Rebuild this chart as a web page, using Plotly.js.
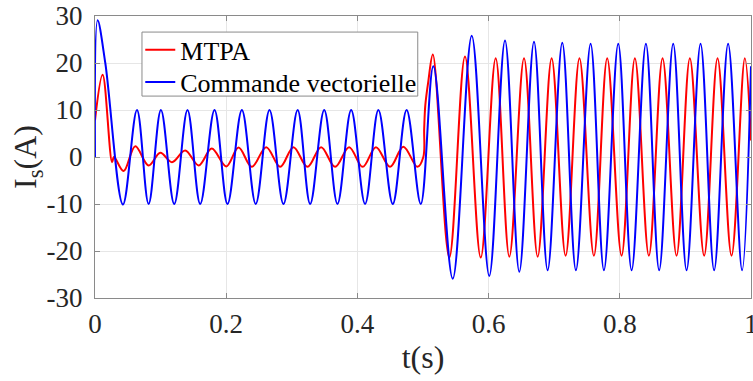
<!DOCTYPE html>
<html>
<head>
<meta charset="utf-8">
<script src="https://cdn.plot.ly/plotly-3.0.1.min.js"></script>
<style>html,body{margin:0;padding:0;background:#fff;}#chart{width:753px;height:381px;}</style>
</head>
<body>
<div id="chart"></div>
<script>
// Commande vectorielle (blue) : time (s) and current (A) read at extrema / key points
var blueT = [0, 0.004, 0.0157, 0.0426,
  0.064, 0.0817, 0.1005, 0.1208, 0.141, 0.1604, 0.1822, 0.202, 0.2239, 0.245, 0.266,
  0.2873, 0.3089, 0.328, 0.3494, 0.3696, 0.3905, 0.4117, 0.432, 0.4539, 0.475, 0.4966,
  0.5158, 0.5453, 0.5743, 0.601, 0.625, 0.6468, 0.6692, 0.69, 0.7123, 0.7331,
  0.7555, 0.7758, 0.7976, 0.818, 0.8398, 0.86, 0.8814, 0.9018, 0.9231, 0.9438,
  0.9651, 0.9864, 1.0];
var blueI = [0, 29.1, 20, -10.1,
  10, -10, 10, -10, 10, -10, 10, -10, 10, -10, 10,
  -10, 10, -10, 10, -10, 10, -10, 10, -10, 10, -10,
  19.3, -25.9, 25.8, -25.3, 24.8, -24.4, 24.5, -24.1, 24.3, -24.1,
  24.1, -24.1, 24.1, -24.1, 24.1, -24.1, 24.1, -24.1, 24.1, -24.1,
  24.1, -24.1, 19.3];

// MTPA (red)
var redT = [0, 0.0116, 0.026, 0.029, 0.0436,
  0.0614, 0.0817, 0.0995, 0.1173, 0.1375, 0.158, 0.178, 0.2, 0.2188, 0.239, 0.261,
  0.2823, 0.3025, 0.3239, 0.3447, 0.366, 0.3874, 0.408, 0.4283, 0.4498, 0.47, 0.4914,
  0.5005, 0.5018, 0.5035, 0.508, 0.515,
  0.5401, 0.564, 0.588, 0.6108, 0.6316, 0.654, 0.6748, 0.6961, 0.7174, 0.7385,
  0.7605, 0.7808, 0.8027, 0.823, 0.8443, 0.8652, 0.8865, 0.9068, 0.9286, 0.949,
  0.9703, 0.9906, 1.0];
var redI = [7.8, 17.5, -1.1, 0, -3.0,
  2.3, -1.8, 0.9, -1.1, 1.4, -1.8, 1.8, -2.0, 2.0, -2.1, 2.1,
  -2.1, 2.1, -2.1, 2.1, -2.1, 2.1, -2.1, 2.1, -2.1, 2.2, -2.1,
  0, 6, 11, 16, 21.8,
  -21.4, 21.4, -21.4, 21.0, -21.2, 21.0, -21.2, 21.0, -21.0, 21.0,
  -21, 21, -21, 21, -21, 21, -21, 21, -21, 21,
  -21, 21, 3.5];

var xTicks = [0, 0.2, 0.4, 0.6, 0.8, 1];
var xTickText = ['0', '0.2', '0.4', '0.6', '0.8', '1'];
var yTicks = [-30, -20, -10, 0, 10, 20, 30];
var yTickText = ['-30', '-20', '-10', '0', '10', '20', '30'];

var FONT = 'Liberation Serif';
var TXT = '#262626';
var FRAME = '#8a8a8a';

var traces = [
  {x: redT, y: redI, type: 'scatter', mode: 'lines', name: 'MTPA', legend: 'legend',
   line: {color: '#ff0000', width: 2, shape: 'spline', smoothing: 1}},
  {x: blueT, y: blueI, type: 'scatter', mode: 'lines', name: 'Commande vectorielle', legend: 'legend2',
   line: {color: '#0000ff', width: 2, shape: 'spline', smoothing: 1}}
];

function axisBase() {
  return {
    showgrid: true, gridcolor: '#e6e6e6', gridwidth: 1,
    zeroline: false, showline: true, linecolor: FRAME, linewidth: 1,
    mirror: 'ticks', ticks: 'inside', ticklen: 5, tickcolor: FRAME, tickwidth: 1,
    ticklabeloverflow: 'allow',
    tickfont: {family: FONT, size: 27, color: TXT}
  };
}

function legendAt(yc) {
  return {x: 0.069, y: yc, xanchor: 'left', yanchor: 'middle',
    bgcolor: 'rgba(0,0,0,0)', borderwidth: 0,
    font: {family: FONT, size: 26, color: '#000'}};
}

var layout = {
  width: 753, height: 381,
  font: {family: FONT, size: 27, color: TXT},
  margin: {l: 95, r: 2, t: 16, b: 83},
  paper_bgcolor: '#ffffff', plot_bgcolor: '#ffffff',
  showlegend: true,
  legend: legendAt(0.88),
  legend2: legendAt(0.766),
  shapes: [{type: 'rect', xref: 'paper', yref: 'paper', layer: 'above',
    x0: 0.0716, x1: 0.492, y0: 0.716, y1: 0.943,
    fillcolor: '#ffffff', line: {color: FRAME, width: 1}}],
  xaxis: Object.assign(axisBase(), {
    range: [0, 1], tickmode: 'array', tickvals: xTicks, ticktext: xTickText,
    ticklabelstandoff: 2,
    title: {text: 't(s)', font: {family: FONT, size: 32, color: TXT}, standoff: 7}
  }),
  yaxis: Object.assign(axisBase(), {
    range: [-30, 30], tickmode: 'array', tickvals: yTicks, ticktext: yTickText,
    ticklabelstandoff: 6,
    title: {text: 'I<sub>s</sub>(A)', font: {family: FONT, size: 32, color: TXT}, standoff: 0}
  })
};

Plotly.newPlot('chart', traces, layout, {staticPlot: true, displayModeBar: false});
</script>
</body>
</html>
